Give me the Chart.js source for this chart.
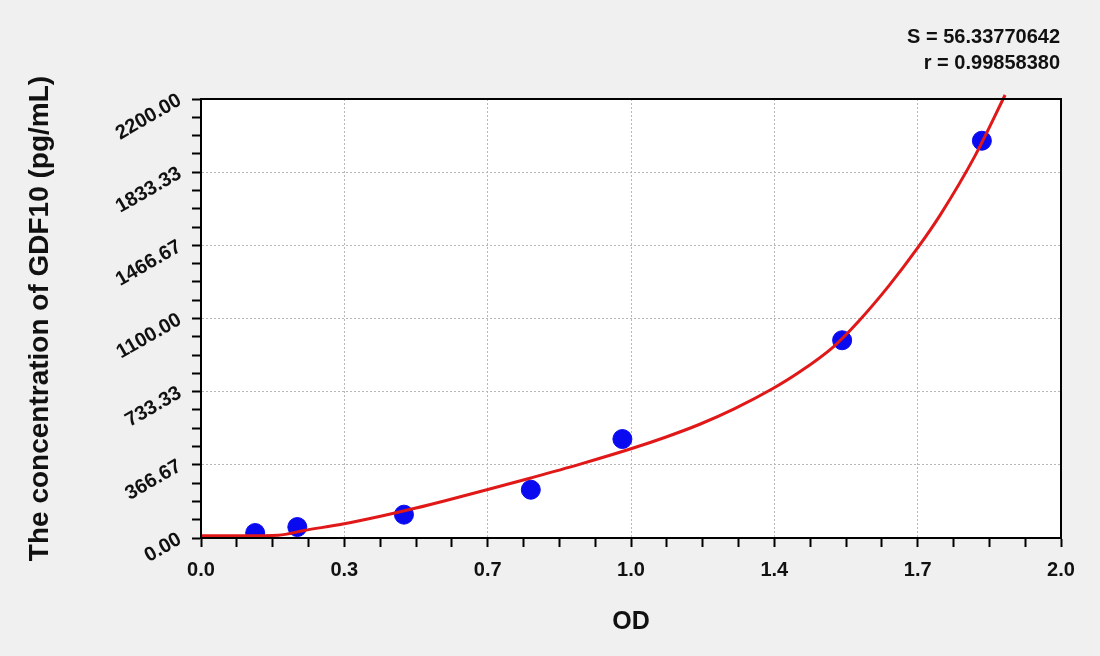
<!DOCTYPE html>
<html>
<head>
<meta charset="utf-8">
<script src="https://cdn.jsdelivr.net/npm/chart.js@4/dist/chart.umd.min.js"></script>
<style>
  body { margin: 0; background: #f0f0f0; }
  #wrap { width: 1100px; height: 656px; }
</style>
</head>
<body>
<div id="wrap"><canvas id="stdchart"></canvas></div>
<script>
// measured standards (OD, concentration)
var odValues = [0.126, 0.224, 0.472, 0.767, 0.980, 1.491, 1.816];
var concValues = [25, 55, 117, 242, 496, 991, 1991];

// fitted curve
var curveOd = [0, 0.10, 0.18, 0.24, 0.33, 0.42, 0.50, 0.57, 0.667, 0.767, 0.88, 1.0, 1.08, 1.16, 1.24, 1.33, 1.39, 1.47, 1.53, 1.60, 1.667, 1.72, 1.80, 1.87];
var curveConc = [11, 11, 14, 38, 70, 110, 150, 188, 243, 301, 369, 447, 505, 570, 647, 749, 829, 957, 1088, 1265, 1455, 1622, 1915, 2220];

var xTickLabels = ["0.0", "0.3", "0.7", "1.0", "1.4", "1.7", "2.0"];
var yTickLabels = ["0.00", "366.67", "733.33", "1100.00", "1466.67", "1833.33", "2200.00"];
var fitText = ["S = 56.33770642", "r = 0.99858380"];

var xMax = 2.0;
var yMax = 2200;
var minorPerMajor = 4;

function tickValues(max) {
    var out = [];
    var n = (xTickLabels.length - 1) * minorPerMajor;
    for (var i = 0; i <= n; i++) out.push({ value: max * i / n });
    return out;
}

function pts(xs, ys) {
    return xs.map(function (x, i) { return { x: x, y: ys[i] }; });
}

var axisFont = { family: "'Liberation Sans', Arial, sans-serif", size: 20, weight: 'bold' };
var gridColor = function (ctx) { return ctx.index % minorPerMajor === 0 ? '#b8b8b8' : 'rgba(0,0,0,0)'; };

var framePlugin = {
    id: 'frame',
    beforeDraw: function (chart) {
        var c = chart.ctx, a = chart.chartArea;
        c.save();
        c.fillStyle = '#f0f0f0';
        c.fillRect(0, 0, chart.width, chart.height);
        c.fillStyle = '#ffffff';
        c.fillRect(a.left, a.top, a.right - a.left, a.bottom - a.top);
        c.restore();
    },
    afterDraw: function (chart) {
        var c = chart.ctx, a = chart.chartArea;
        c.save();
        c.strokeStyle = '#000';
        c.lineWidth = 2;
        c.strokeRect(a.left, a.top, a.right - a.left, a.bottom - a.top);
        c.fillStyle = '#111';
        c.font = "bold 20px 'Liberation Sans', Arial, sans-serif";
        c.textAlign = 'right';
        c.textBaseline = 'middle';
        c.fillText(fitText[0], a.right - 1, 37);
        c.fillText(fitText[1], a.right - 1, 63);
        c.restore();
    }
};

var ctx = document.getElementById("stdchart").getContext('2d');
var chart = new Chart(ctx, {
    type: 'scatter',
    data: {
        datasets: [{
            data: pts(curveOd, curveConc),
            showLine: true,
            borderColor: '#e01818',
            borderWidth: 3,
            pointRadius: 0,
            cubicInterpolationMode: 'monotone',
            clip: false
        }, {
            data: pts(odValues, concValues),
            backgroundColor: '#0a0af0',
            borderColor: '#0a0af0',
            pointRadius: 9.5,
            pointHoverRadius: 9.5
        }]
    },
    options: {
        responsive: true,
        maintainAspectRatio: false,
        animation: false,
        layout: { padding: { top: 99, right: 39, bottom: 0, left: 0 } },
        plugins: { legend: { display: false }, tooltip: { enabled: false } },
        scales: {
            x: {
                type: 'linear',
                min: 0,
                max: xMax,
                afterFit: function (s) { s.height = 118; },
                afterBuildTicks: function (s) { s.ticks = tickValues(xMax); },
                ticks: {
                    autoSkip: false,
                    maxRotation: 0,
                    padding: 11,
                    color: '#111',
                    font: axisFont,
                    callback: function (v, i) { return i % minorPerMajor === 0 ? xTickLabels[i / minorPerMajor] : ''; }
                },
                grid: { color: gridColor, tickColor: '#000', tickWidth: 2, tickLength: 9 },
                border: { color: '#000', width: 2, dash: [2, 2] },
                title: {
                    display: true,
                    text: 'OD',
                    color: '#111',
                    font: { family: "'Liberation Sans', Arial, sans-serif", size: 25, weight: 'bold' },
                    padding: { top: 0, bottom: 19 }
                }
            },
            y: {
                type: 'linear',
                min: 0,
                max: yMax,
                afterFit: function (s) { s.width = 201; },
                afterBuildTicks: function (s) { s.ticks = tickValues(yMax); },
                ticks: {
                    autoSkip: false,
                    minRotation: 30,
                    maxRotation: 30,
                    padding: 12,
                    color: '#111',
                    font: axisFont,
                    callback: function (v, i) { return i % minorPerMajor === 0 ? yTickLabels[i / minorPerMajor] : ''; }
                },
                grid: { color: gridColor, tickColor: '#000', tickWidth: 2, tickLength: 9 },
                border: { color: '#000', width: 2, dash: [2, 2] },
                title: {
                    display: true,
                    text: 'The concentration of GDF10 (pg/mL)',
                    color: '#111',
                    font: { family: "'Liberation Sans', Arial, sans-serif", size: 28, weight: 'bold' },
                    padding: { top: 23, bottom: 0 }
                }
            }
        }
    },
    plugins: [framePlugin]
});
</script>
</body>
</html>
